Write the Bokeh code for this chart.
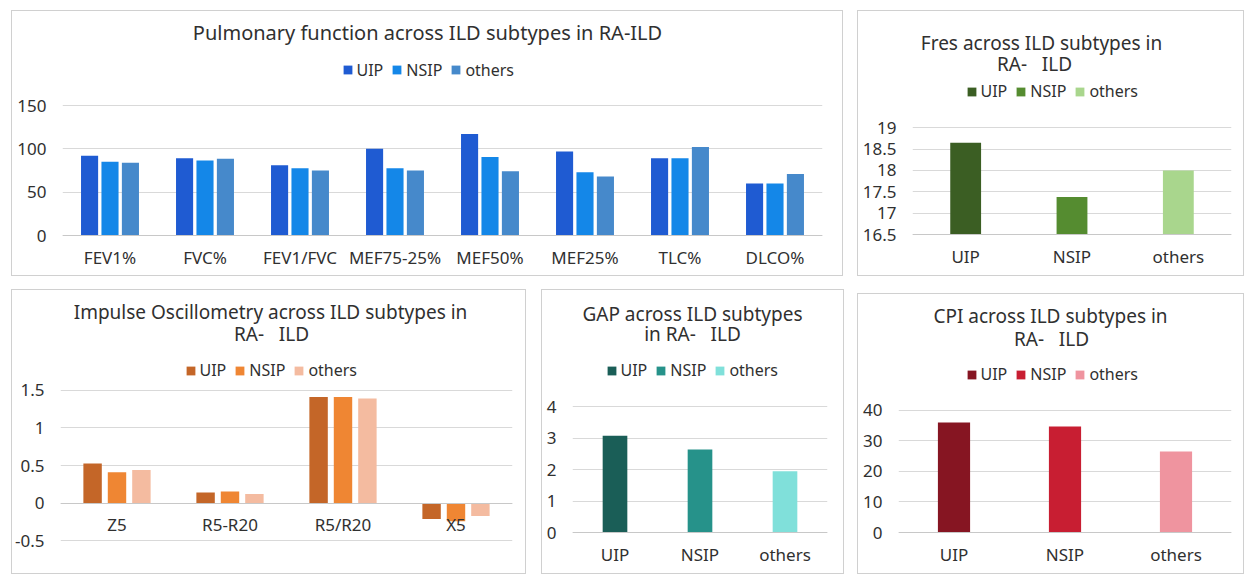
from bokeh.plotting import figure
from bokeh.models import (ColumnDataSource, Legend, LegendItem, Label, FactorRange,
                          Range1d, FixedTicker, NumeralTickFormatter)
from bokeh.transform import dodge
from bokeh.layouts import row, column
from bokeh.embed import file_html
from bokeh.resources import INLINE

# ---------------- data ----------------
subtypes = ["UIP", "NSIP", "others"]

pf_categories = ["FEV1%", "FVC%", "FEV1/FVC", "MEF75-25%", "MEF50%", "MEF25%", "TLC%", "DLCO%"]
pf_uip = [92, 89, 81, 100, 117, 97, 89, 60]
pf_nsip = [85, 86.5, 77.5, 77.5, 90.5, 73, 89, 60]
pf_others = [84, 88.5, 75, 75, 74, 68, 102, 71]

ios_categories = ["Z5", "R5-R20", "R5/R20", "X5"]
ios_uip = [0.525, 0.14, 1.41, -0.21]
ios_nsip = [0.41, 0.155, 1.41, -0.24]
ios_others = [0.44, 0.12, 1.39, -0.17]

fres_values = [18.65, 17.38, 18.0]
gap_values = [3.08, 2.64, 1.95]
cpi_values = [36.0, 34.7, 26.5]

pf_ticks = [0, 50, 100, 150]
fres_ticks = [16.5, 17, 17.5, 18, 18.5, 19]
ios_ticks = [-0.5, 0, 0.5, 1, 1.5]
gap_ticks = [0, 1, 2, 3, 4]
cpi_ticks = [0, 10, 20, 30, 40]

SP = "\u00a0\u00a0\u00a0"  # the wide gap shown in "RA-   ILD"

# ---------------- style ----------------
FONT = "Noto Sans"
TXT = "#303030"
GRID = "#d9d9d9"
ZERO = "#c8c8c8"
BORDER = "1px solid #d0d0d0"
LEG_W = 171  # rendered legend width, used to centre it


class Box:
    """Pixel geometry of one panel: canvas origin, size and frame borders."""
    def __init__(self, cx, cy, w, h, left, right, bottom):
        self.cx, self.cy, self.w, self.h = cx, cy, w, h
        self.left, self.right, self.bottom = left, right, bottom
        self.frame_left = cx + left
        self.frame_bottom = cy + h - bottom

    def sx(self, x):
        return x - self.frame_left

    def sy(self, y):
        return self.frame_bottom - y


def panel_fig(box, factors, ticks, margin, px_min, px_max, base):
    axis_min, axis_max = ticks[0], ticks[-1]
    scale = (px_min - px_max) / (axis_max - axis_min)
    y_start = axis_min - (box.frame_bottom - px_min) / scale
    y_end = axis_min + (px_min - box.cy) / scale
    p = figure(width=box.w, height=box.h, x_range=FactorRange(*factors),
               y_range=Range1d(y_start, y_end),
               output_backend="svg", toolbar_location=None,
               min_border_left=box.left, min_border_right=box.right,
               min_border_top=0, min_border_bottom=box.bottom,
               margin=margin, styles={"border": BORDER})
    p.outline_line_color = None
    p.background_fill_color = "white"
    p.border_fill_color = "white"
    p.xgrid.grid_line_color = None
    p.ygrid.grid_line_color = GRID
    p.ygrid.grid_line_width = 1.2
    p.yaxis.ticker = FixedTicker(ticks=ticks)
    p.yaxis.formatter = NumeralTickFormatter(format="0.[0]")
    p.yaxis.axis_line_color = None
    p.yaxis.major_tick_line_color = None
    p.yaxis.minor_tick_line_color = None
    p.yaxis.major_label_text_font = FONT
    p.yaxis.major_label_text_font_size = "17px"
    p.yaxis.major_label_text_color = TXT
    p.yaxis.major_label_standoff = 10
    p.xaxis.fixed_location = base
    p.xaxis.axis_line_color = ZERO
    p.xaxis.axis_line_width = 1.2
    p.xaxis.major_tick_line_color = None
    p.xaxis.minor_tick_line_color = None
    p.xaxis.major_label_text_font = FONT
    p.xaxis.major_label_text_font_size = "17px"
    p.xaxis.major_label_text_color = TXT
    p.xaxis.major_label_standoff = 4
    return p


def add_header(p, box, lines, title_size, legend_items, leg_center):
    lx, ly = leg_center
    leg = Legend(items=legend_items, orientation="horizontal",
                 location=(box.sx(lx - LEG_W / 2), box.sy(ly + 10)),
                 margin=0, padding=0, spacing=8, label_standoff=4,
                 glyph_width=11, glyph_height=11,
                 label_text_font=FONT, label_text_font_size="16px",
                 label_text_color=TXT, border_line_color=None,
                 background_fill_alpha=0)
    p.add_layout(leg, "center")
    for text, (tx, ty) in lines:
        p.add_layout(Label(x=box.sx(tx), y=box.sy(ty), x_units="screen", y_units="screen",
                           text=text, text_align="center", text_baseline="middle",
                           text_font=FONT, text_font_size=title_size, text_color=TXT))


def grouped(box, factors, series, colors, ticks, margin, px, lines, title_size, leg_center,
            offset, bw):
    p = panel_fig(box, factors, ticks, margin, px[0], px[1], 0)
    src = ColumnDataSource(dict(cat=factors, UIP=series[0], NSIP=series[1], others=series[2]))
    items = []
    for i, name in enumerate(subtypes):
        r = p.vbar(x=dodge("cat", (i - 1) * offset, range=p.x_range), top=name, bottom=0,
                   width=bw, source=src, fill_color=colors[i], line_color=None)
        items.append(LegendItem(label=name, renderers=[r]))
    add_header(p, box, lines, title_size, items, leg_center)
    return p


def single(box, values, colors, ticks, margin, px, lines, leg_center, bw):
    base = ticks[0]
    p = panel_fig(box, subtypes, ticks, margin, px[0], px[1], base)
    src = ColumnDataSource(dict(cat=subtypes, val=values, color=colors))
    r = p.vbar(x="cat", top="val", bottom=base, width=bw, source=src,
               fill_color="color", line_color=None)
    items = [LegendItem(label=n, renderers=[r], index=i) for i, n in enumerate(subtypes)]
    add_header(p, box, lines, "19px", items, leg_center)
    return p


p1 = grouped(Box(12, 11, 832, 266, 50, 22, 3), pf_categories, [pf_uip, pf_nsip, pf_others],
             ["#1F5BD2", "#1487E8", "#4689CB"], pf_ticks, (10, 0, 0, 11), (235, 105),
             [("Pulmonary function across ILD subtypes in RA-ILD", (427, 32))], "20px",
             (427, 70.5), 0.215, 0.18)

p2 = single(Box(858, 11, 387, 266, 54, 14, 3), fres_values,
            ["#3B5E23", "#558C30", "#A9D68D"], fres_ticks, (10, 0, 0, 14), (234, 127.3),
            [("Fres across ILD subtypes in", (1041, 42)), ("RA-" + SP + "ILD", (1034, 63))],
            (1051, 92), 0.29)

p3 = grouped(Box(12, 290, 515, 285, 46, 15, 3), ios_categories,
             [ios_uip, ios_nsip, ios_others], ["#C46628", "#EF8633", "#F4BBA0"], ios_ticks,
             (13, 0, 0, 11), (540.3, 389.7),
             [("Impulse Oscillometry across ILD subtypes in", (268, 311)),
              ("RA-" + SP + "ILD", (269, 333))], "19px",
             (268, 371), 0.216, 0.163)

p4 = single(Box(542, 290, 303, 285, 30, 18, 3), gap_values,
            ["#1A5E57", "#26928A", "#80E0DA"], gap_ticks, (13, 0, 0, 15), (532, 406.3),
            [("GAP across ILD subtypes", (692, 313)), ("in RA-" + SP + "ILD", (692, 333))],
            (691, 371), 0.29)

p5 = single(Box(858, 294, 387, 281, 40, 14, 3), cpi_values,
            ["#861522", "#C81E32", "#EF949F"], cpi_ticks, (17, 0, 0, 13), (532, 409.7),
            [("CPI across ILD subtypes in", (1050, 315)), ("RA-" + SP + "ILD", (1051, 338))],
            (1051, 375), 0.29)

layout = column(row(p1, p2), row(p3, p4, p5))

open("out.html", "w").write(file_html(layout, INLINE))
